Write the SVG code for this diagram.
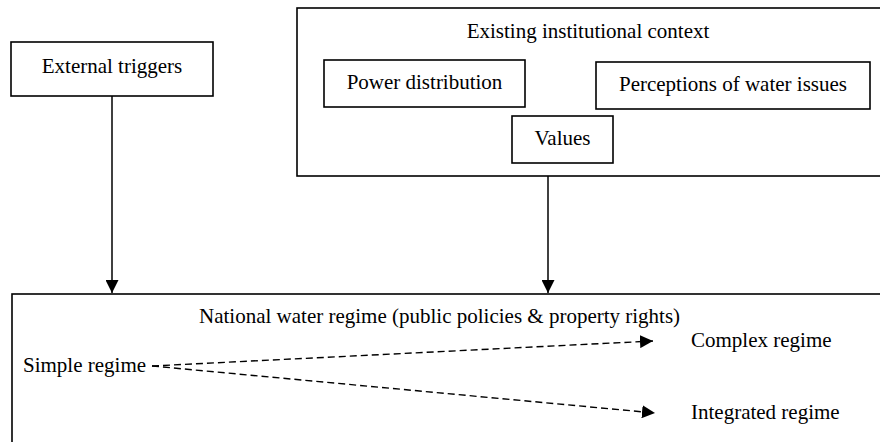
<svg xmlns="http://www.w3.org/2000/svg" width="880" height="442" viewBox="0 0 880 442">
<style>
.box{fill:#fff;stroke:#000;stroke-width:1.6}
.t{font-family:"Liberation Serif","Times New Roman",serif;font-size:21px;fill:#000}
.c{stroke:#000;stroke-width:1.5;fill:none}
.d{stroke:#000;stroke-width:1.4;fill:none;stroke-dasharray:7 4}
</style>
<defs>
<marker id="ah" viewBox="0 0 13 13" refX="13" refY="6.5" markerWidth="13" markerHeight="13" markerUnits="userSpaceOnUse" orient="auto">
<path d="M0,0 L13,6.5 L0,13 z" fill="#000"/>
</marker>
</defs>
<g id="national-regime">
<rect class="box" x="12" y="294" width="900" height="200"/>
<text class="t" x="199" y="323">National water regime (public policies &amp; property rights)</text>
</g>
<g id="simple-regime"><text class="t" x="23" y="372">Simple regime</text></g>
<g id="complex-regime"><text class="t" x="691" y="347">Complex regime</text></g>
<g id="integrated-regime"><text class="t" x="691" y="419">Integrated regime</text></g>
<g id="external-triggers">
<rect class="box" x="11" y="42" width="202" height="54"/>
<text class="t" x="112" y="73" text-anchor="middle">External triggers</text>
</g>
<g id="institutional-context">
<rect class="box" x="297" y="8" width="600" height="168"/>
<text class="t" x="588" y="38" text-anchor="middle">Existing institutional context</text>
</g>
<g id="power-distribution">
<rect class="box" x="324" y="60" width="201" height="47"/>
<text class="t" x="424.5" y="89" text-anchor="middle">Power distribution</text>
</g>
<g id="perceptions">
<rect class="box" x="596" y="62" width="274" height="47"/>
<text class="t" x="733" y="91" text-anchor="middle">Perceptions of water issues</text>
</g>
<g id="values">
<rect class="box" x="512" y="116" width="101" height="47"/>
<text class="t" x="562.5" y="145" text-anchor="middle">Values</text>
</g>
<g id="connectors">
<line class="c" x1="112" y1="96" x2="112" y2="293" marker-end="url(#ah)"/>
<line class="c" x1="548" y1="176" x2="548" y2="293" marker-end="url(#ah)"/>
<line class="d" x1="152" y1="366" x2="653" y2="341" marker-end="url(#ah)"/>
<line class="d" x1="152" y1="366" x2="655" y2="413" marker-end="url(#ah)"/>
</g>
</svg>
